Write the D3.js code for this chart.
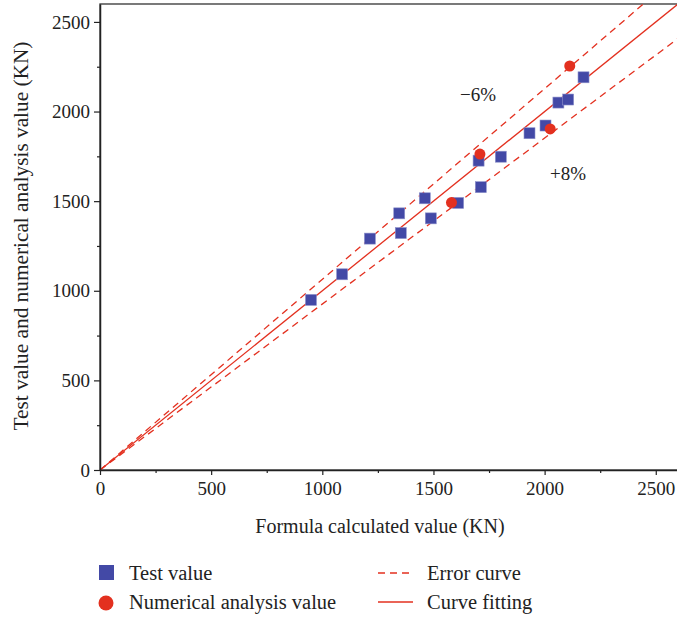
<!DOCTYPE html>
<html>
<head>
<meta charset="utf-8">
<script src="https://cdn.jsdelivr.net/npm/d3@7"></script>
<style>
  html, body { margin: 0; padding: 0; background: #fff; }
  svg { display: block; font-family: "Liberation Serif", "DejaVu Serif", serif; }
</style>
</head>
<body>
<svg id="chart" width="677" height="620"></svg>
<script>
// Test values: [formula calculated value, measured value] in KN
const testX = [949, 1089, 1214, 1346, 1353, 1461, 1488, 1611, 1703, 1713, 1803, 1932, 2004, 2062, 2106, 2175];
const testY = [949, 1092, 1291, 1432, 1322, 1516, 1404, 1490, 1726, 1578, 1748, 1879, 1922, 2050, 2067, 2191];
// Numerical analysis values
const numX = [1581, 1709, 2025, 2113];
const numY = [1492, 1763, 1903, 2254];
// Fitted line slope and error bounds
const fitSlope = 1.0;
const errorBands = [{ label: "\u22126%", factor: 0.94 }, { label: "+8%", factor: 1.08 }];
const tickValues = [0, 500, 1000, 1500, 2000, 2500];
const minorTicks = [250, 750, 1250, 1750, 2250];
const axisMax = 2600;

const svg = d3.select("#chart");
const mLeft = 100, mTop = 4, mRight = 678, mBottom = 470;

const x = d3.scaleLinear().domain([0, axisMax]).range([mLeft, mRight]);
const y = d3.scaleLinear().domain([0, axisMax]).range([mBottom, mTop]);

svg.append("defs").append("clipPath").attr("id", "plotClip")
  .append("rect").attr("x", mLeft).attr("y", mTop)
  .attr("width", mRight - mLeft).attr("height", mBottom - mTop);

const red = "#e3301f";
const blue = "#4349a6";
const ink = "#222";

// frame
svg.append("rect").attr("x", mLeft).attr("y", mTop)
  .attr("width", mRight - mLeft).attr("height", mBottom - mTop)
  .attr("fill", "none").attr("stroke", "#333").attr("stroke-width", 1.3);

const plot = svg.append("g").attr("clip-path", "url(#plotClip)");

// error curves
errorBands.forEach(b => {
  plot.append("line")
    .attr("x1", x(0)).attr("y1", y(0))
    .attr("x2", x(axisMax)).attr("y2", y(axisMax / b.factor))
    .attr("stroke", red).attr("stroke-width", 1.3)
    .attr("stroke-dasharray", "7,5");
});
// fitted curve
plot.append("line")
  .attr("x1", x(0)).attr("y1", y(0))
  .attr("x2", x(axisMax)).attr("y2", y(axisMax * fitSlope))
  .attr("stroke", red).attr("stroke-width", 1.3);

// test values
const sq = 11;
plot.selectAll("rect.test").data(testX.map((v, i) => [v, testY[i]])).enter()
  .append("rect").attr("class", "test")
  .attr("x", d => x(d[0]) - sq / 2).attr("y", d => y(d[1]) - sq / 2)
  .attr("width", sq).attr("height", sq)
  .attr("fill", blue).attr("stroke", "#8f93cc").attr("stroke-width", 0.6);

// numerical analysis values
plot.selectAll("circle.num").data(numX.map((v, i) => [v, numY[i]])).enter()
  .append("circle").attr("class", "num")
  .attr("cx", d => x(d[0])).attr("cy", d => y(d[1])).attr("r", 5.5)
  .attr("fill", red);

// axes
const fmt = d3.format("d");
svg.append("g").attr("transform", `translate(0,${mBottom})`)
  .call(d3.axisBottom(x).tickValues(tickValues).tickFormat(fmt).tickSize(5).tickSizeOuter(0).tickPadding(7));
svg.append("g").attr("transform", `translate(0,${mBottom})`)
  .call(d3.axisBottom(x).tickValues(minorTicks).tickSize(3).tickFormat("").tickSizeOuter(0))
  .select(".domain").remove();
svg.append("g").attr("transform", `translate(${mLeft},0)`)
  .call(d3.axisLeft(y).tickValues(tickValues).tickFormat(fmt).tickSize(6).tickSizeOuter(0).tickPadding(4));
svg.append("g").attr("transform", `translate(${mLeft},0)`)
  .call(d3.axisLeft(y).tickValues(minorTicks).tickSize(3).tickFormat("").tickSizeOuter(0))
  .select(".domain").remove();

svg.selectAll(".tick line").attr("stroke", ink).attr("stroke-width", 1.2);
svg.selectAll(".domain").attr("stroke", ink).attr("stroke-width", 1.5);
svg.selectAll(".tick text").attr("font-size", 19).attr("fill", ink)
  .attr("font-family", "Liberation Serif, DejaVu Serif, serif");

// band labels
svg.append("text").attr("x", 478).attr("y", 101).attr("text-anchor", "middle")
  .attr("font-size", 19).attr("fill", ink).text(errorBands[0].label);
svg.append("text").attr("x", 568).attr("y", 180).attr("text-anchor", "middle")
  .attr("font-size", 19).attr("fill", ink).text(errorBands[1].label);

// axis titles
svg.append("text").attr("x", 380).attr("y", 533).attr("text-anchor", "middle")
  .attr("font-size", 20).attr("fill", ink).text("Formula calculated value (KN)");
svg.append("text").attr("transform", `translate(28,236) rotate(-90)`)
  .attr("text-anchor", "middle").attr("font-size", 21.3).attr("fill", ink)
  .text("Test value and numerical analysis value (KN)");

// legend
const lg = svg.append("g").attr("font-size", 20.5).attr("fill", ink);
lg.append("rect").attr("x", 99).attr("y", 565).attr("width", 15).attr("height", 15).attr("fill", blue);
lg.append("text").attr("x", 129).attr("y", 580).text("Test value");
lg.append("circle").attr("cx", 106).attr("cy", 603).attr("r", 7.5).attr("fill", red);
lg.append("text").attr("x", 129).attr("y", 609).text("Numerical analysis value");
lg.append("line").attr("x1", 378).attr("x2", 413).attr("y1", 573).attr("y2", 573)
  .attr("stroke", red).attr("stroke-width", 1.3).attr("stroke-dasharray", "7,5");
lg.append("text").attr("x", 427).attr("y", 580).text("Error curve");
lg.append("line").attr("x1", 378).attr("x2", 413).attr("y1", 602).attr("y2", 602)
  .attr("stroke", red).attr("stroke-width", 1.3);
lg.append("text").attr("x", 427).attr("y", 609).text("Curve fitting");
</script>
</body>
</html>
